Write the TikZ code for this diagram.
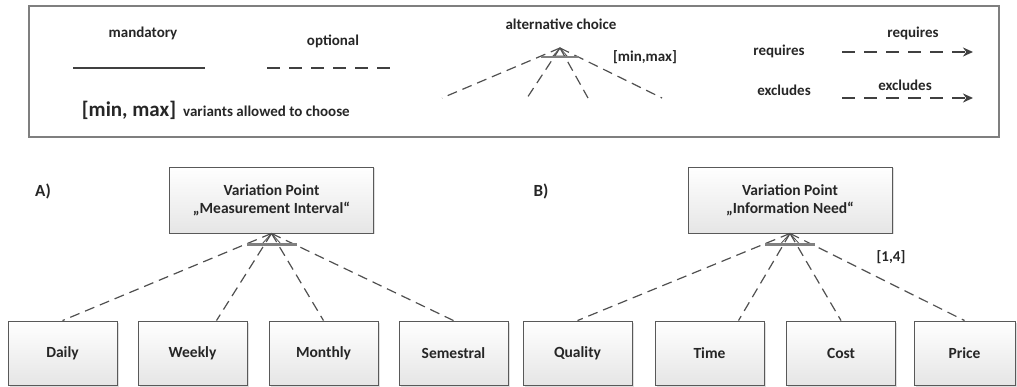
\documentclass[tikz,border=0pt]{standalone}
\usepackage{fontspec}
\setmainfont{Carlito}
\usetikzlibrary{arrows.meta,shadows}
\definecolor{linegray}{HTML}{404040}
\definecolor{dashgray}{HTML}{505050}
\definecolor{bargray}{HTML}{808080}
\definecolor{framegray}{HTML}{7F7F7F}
\definecolor{boxedge}{HTML}{595959}
\definecolor{inkgray}{HTML}{262626}
\begin{document}
\begin{tikzpicture}[x=1pt,y=-1pt,
  font=\bfseries\fontsize{15}{18}\selectfont,
  featbox/.style={draw=boxedge, line width=0.9pt, top color=white, bottom color=black!10,
    drop shadow={opacity=0.25,shadow xshift=1.5pt,shadow yshift=-1.5pt},
    minimum width=109pt, minimum height=64pt, inner sep=0pt, text=inkgray,
    font=\bfseries\fontsize{15.5}{18}\selectfont},
  vpbox/.style={featbox, minimum width=204pt, minimum height=66pt, align=center},
  optline/.style={draw=dashgray, line width=1.2pt, dash pattern=on 10pt off 6pt},
  legdash/.style={draw=linegray, line width=1.8pt, dash pattern=on 13pt off 9pt},
  solidline/.style={draw=linegray, line width=1.8pt},
  altbar/.style={draw=bargray, line width=2.2pt},
  alttri/.style={draw=dashgray, line width=0.8pt},
  lbl/.style={inner sep=0pt, text=inkgray},
  reqtip/.style={-{Stealth[length=10pt,width=9pt]}}]
\useasboundingbox (0,0) rectangle (1017,387);

% ---------- legend ----------
\draw[framegray, line width=1.2pt] (29,6) rectangle (999,137);

\node[lbl] (tmand) at (143,33) {mandatory};
\coordinate (m0) at (73,68); \coordinate (m1) at (205,68);
\draw[solidline] (m0) -- (m1);

\node[lbl] (topt) at (333,41) {optional};
\coordinate (o0) at (267,68); \coordinate (o1) at (398,68);
\draw[legdash] (o0) -- (o1);

\node[lbl, font=\bfseries\fontsize{21}{24}\selectfont] (tminmax) at (129,110) {[min, max]};
\node[lbl, anchor=west] (tvar) at (183,111) {variants allowed to choose};

\node[lbl] (talt) at (561,24) {alternative choice};
\node[lbl] (tmm) at (645,57) {[min,max]};
\coordinate (la) at (560,48);
\coordinate (l1) at (442,98); \coordinate (l2) at (527,98);
\coordinate (l3) at (588,98); \coordinate (l4) at (662,98);
\foreach \e in {l1,l2,l3,l4} \draw[optline] (la) -- (\e);
\draw[alttri] (la) -- ++(-7,8) -- ++(14,0) -- cycle;
\draw[altbar] ([xshift=-19pt,yshift=-9pt]la) -- ([xshift=19pt,yshift=-9pt]la);

\node[lbl] (treq) at (779,51) {requires};
\coordinate (r0) at (842,52); \coordinate (r1) at (973,52);
\draw[legdash, reqtip] (r0) -- (r1);
\node[lbl] (treqa) at (913,33) {requires};

\node[lbl] (texc) at (784,90) {excludes};
\coordinate (e0) at (842,98); \coordinate (e1) at (973,98);
\draw[legdash, reqtip] (e0) -- (e1);
\node[lbl] (texca) at (905,85) {excludes};

% ---------- A) measurement interval ----------
\node[lbl, font=\bfseries\fontsize{17}{20}\selectfont] (labA) at (43,191) {A)};
\node[vpbox] (vpA) at (271.5,200) {Variation Point\\„Measurement Interval“};
\node[featbox] (daily)     at (62.5,353)  {Daily};
\node[featbox] (weekly)    at (192.5,353) {Weekly};
\node[featbox] (monthly)   at (323.5,353) {Monthly};
\node[featbox] (semestral) at (453.5,353) {Semestral};

\draw[optline] (vpA.south) -- (daily.north);
\draw[optline] (vpA.south) -- ([xshift=24pt]weekly.north);
\draw[optline] (vpA.south) -- (monthly.north);
\draw[optline] (vpA.south) -- (semestral.north);
\draw[alttri] (vpA.south) -- ++(-9,10) -- ++(18,0) -- cycle;
\draw[altbar] ([xshift=-25pt,yshift=-11pt]vpA.south) -- ([xshift=25pt,yshift=-11pt]vpA.south);

% ---------- B) information need ----------
\node[lbl, font=\bfseries\fontsize{17}{20}\selectfont] (labB) at (541,191) {B)};
\node[vpbox] (vpB) at (790,200) {Variation Point\\„Information Need“};
\node[featbox] (quality) at (577.5,353) {Quality};
\node[featbox] (time)    at (709.5,353) {Time};
\node[featbox] (cost)    at (841,353)   {Cost};
\node[featbox, minimum width=101pt] (price) at (964.5,353) {Price};
\node[lbl] (card) at (891,257) {[1,4]};

\draw[optline] (vpB.south) -- (quality.north);
\draw[optline] (vpB.south) -- ([xshift=29pt]time.north);
\draw[optline] (vpB.south) -- (cost.north);
\draw[optline] (vpB.south) -- (price.north);
\draw[alttri] (vpB.south) -- ++(-9,10) -- ++(18,0) -- cycle;
\draw[altbar] ([xshift=-25pt,yshift=-11pt]vpB.south) -- ([xshift=25pt,yshift=-11pt]vpB.south);
\end{tikzpicture}
\end{document}
